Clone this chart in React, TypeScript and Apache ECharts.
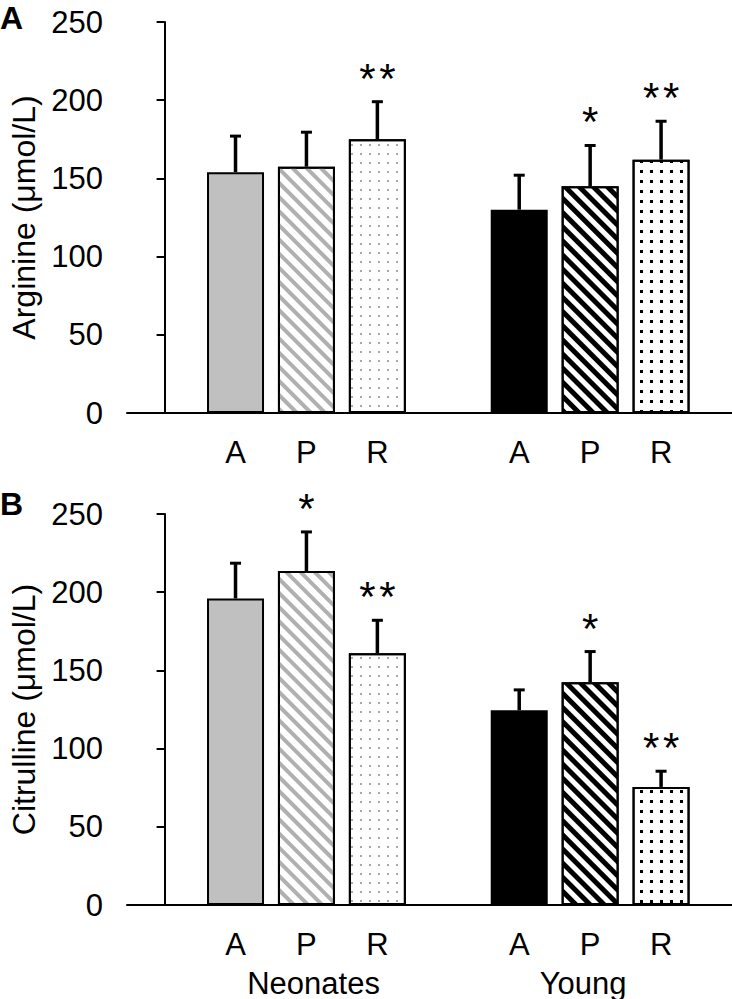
import React, { useEffect, useRef } from "react";
import * as echarts from "echarts";

const FONT = "'Liberation Sans', Arial, Helvetica, sans-serif";

// Data
const groupNames = ["Neonates", "Young"];
const treatments = ["A", "P", "R"];
const xPositions = [1, 2, 3, 5, 6, 7];
const groupLabelPositions = [2.1, 5.9];

const arginineMean = [154, 157.5, 175, 130, 145, 162];
const arginineSD = [24, 23, 25, 23, 27, 25.5];
const arginineSig = ["", "", "**", "", "*", "**"];

const citrullineMean = [196, 213.5, 161, 124.5, 142.5, 75.5];
const citrullineSD = [23.5, 26, 22, 14, 20.5, 11];
const citrullineSig = ["", "*", "**", "", "*", "**"];

const yTicks = [0, 50, 100, 150, 200, 250];

const stripeGray = {
  symbol: "rect",
  symbolSize: 1,
  dashArrayX: [1, 0],
  dashArrayY: [4, 5.5],
  rotation: Math.PI / 4,
  color: "#b0b0b0",
};
const stripeBlack = {
  symbol: "rect",
  symbolSize: 1,
  dashArrayX: [1, 0],
  dashArrayY: [5, 4.5],
  rotation: Math.PI / 4,
  color: "#000000",
};
const dotsGray = {
  symbol: "rect",
  symbolSize: 1,
  dashArrayX: [2, 7],
  dashArrayY: [2, 7],
  rotation: 0,
  color: "#a8a8a8",
};
const dotsBlack = {
  symbol: "rect",
  symbolSize: 1,
  dashArrayX: [2.5, 7],
  dashArrayY: [2.5, 7],
  rotation: 0,
  color: "#000000",
};

const barStyles: any[] = [
  { color: "#c0c0c0" },
  { color: "#ffffff", decal: stripeGray },
  { color: "#ffffff", decal: dotsGray },
  { color: "#000000" },
  { color: "#ffffff", decal: stripeBlack },
  { color: "#ffffff", decal: dotsBlack },
];

function barSeries(idx: number, means: number[]) {
  return {
    type: "bar",
    xAxisIndex: idx,
    yAxisIndex: idx,
    barWidth: 57,
    z: 2,
    data: xPositions.map((x, i) => ({
      value: [x, means[i]],
      itemStyle: { ...barStyles[i], borderColor: "#000", borderWidth: 2 },
    })),
  };
}

function errSeries(idx: number, means: number[], sds: number[], sigs: string[]) {
  return {
    type: "custom",
    xAxisIndex: idx,
    yAxisIndex: idx,
    z: 5,
    data: xPositions.map((x, i) => [x, means[i], sds[i], i]),
    renderItem: (params: any, api: any) => {
      const x = api.value(0);
      const m = api.value(1);
      const s = api.value(2);
      const i = api.value(3);
      const base = api.coord([x, m]);
      const top = api.coord([x, m + s]);
      const children: any[] = [
        {
          type: "line",
          shape: { x1: base[0], y1: base[1], x2: top[0], y2: top[1] + 1.5 },
          style: { stroke: "#000", lineWidth: 3.5 },
        },
        {
          type: "line",
          shape: { x1: top[0] - 5.5, y1: top[1] + 1.5, x2: top[0] + 5.5, y2: top[1] + 1.5 },
          style: { stroke: "#000", lineWidth: 3 },
        },
      ];
      const sig = sigs[i];
      const n = sig.length;
      for (let k = 0; k < n; k++) {
        children.push({
          type: "text",
          x: top[0] + (k - (n - 1) / 2) * 20,
          y: top[1] - 22,
          style: {
            text: "*",
            font: `42px ${FONT}`,
            fill: "#000",
            textAlign: "center",
            textVerticalAlign: "middle",
          },
        });
      }
      return { type: "group", children };
    },
  };
}

function xAxisDef(idx: number) {
  return {
    type: "value",
    gridIndex: idx,
    min: -0.53,
    max: 8,
    axisLine: { show: true, lineStyle: { color: "#000", width: 2 } },
    axisTick: { show: false },
    splitLine: { show: false },
    axisLabel: {
      show: true,
      customValues: xPositions,
      formatter: (v: number) => {
        const k = xPositions.indexOf(v);
        return k >= 0 ? treatments[k % 3] : "";
      },
      color: "#000",
      fontSize: 31,
      fontFamily: FONT,
      margin: 24,
    },
  };
}

function yAxisDef(idx: number, name: string) {
  return {
    type: "value",
    gridIndex: idx,
    min: yTicks[0],
    max: yTicks[yTicks.length - 1],
    interval: 50,
    name,
    nameLocation: "middle",
    nameRotate: 90,
    nameGap: 86,
    nameTextStyle: { color: "#000", fontSize: 32, fontFamily: FONT },
    axisLine: { show: true, lineStyle: { color: "#000", width: 2 } },
    axisTick: { show: true, inside: false, length: 8, lineStyle: { color: "#000", width: 2 } },
    splitLine: { show: false },
    axisLabel: { color: "#000", fontSize: 31, fontFamily: FONT, margin: 24 },
  };
}

export default function App() {
  const ref = useRef<HTMLDivElement>(null);
  useEffect(() => {
    if (!ref.current) return;
    const chart = echarts.init(ref.current, undefined, { renderer: "svg" });
    const option: any = {
      animation: false,
      backgroundColor: "#ffffff",
      textStyle: { fontFamily: FONT },
      grid: [
        { left: 127, top: 22, width: 605, height: 391 },
        { left: 127, top: 514, width: 605, height: 391 },
      ],
      xAxis: [
        xAxisDef(0),
        xAxisDef(1),
        {
          type: "value",
          gridIndex: 1,
          min: -0.53,
          max: 8,
          position: "bottom",
          axisLine: { show: false },
          axisTick: { show: false },
          splitLine: { show: false },
          axisLabel: {
            show: true,
            customValues: groupLabelPositions,
            formatter: (v: number) => {
              const k = groupLabelPositions.indexOf(v);
              return k >= 0 ? groupNames[k] : "";
            },
            color: "#000",
            fontSize: 31,
            lineHeight: 28,
            fontFamily: FONT,
            margin: 64,
          },
        },
      ],
      yAxis: [yAxisDef(0, "Arginine (μmol/L)"), yAxisDef(1, "Citrulline (μmol/L)")],
      series: [
        barSeries(0, arginineMean),
        errSeries(0, arginineMean, arginineSD, arginineSig),
        barSeries(1, citrullineMean),
        errSeries(1, citrullineMean, citrullineSD, citrullineSig),
      ],
      graphic: [
        {
          type: "text",
          left: 0,
          top: 2,
          style: { text: "A", font: `bold 32px ${FONT}`, fill: "#000" },
        },
        {
          type: "text",
          left: 0,
          top: 488,
          style: { text: "B", font: `bold 32px ${FONT}`, fill: "#000" },
        },
      ],
    };
    chart.setOption(option);
    return () => chart.dispose();
  }, []);
  return (
    <div
      ref={ref}
      style={{ position: "absolute", left: 0, top: 0, width: 732, height: 999, background: "#fff" }}
    />
  );
}
